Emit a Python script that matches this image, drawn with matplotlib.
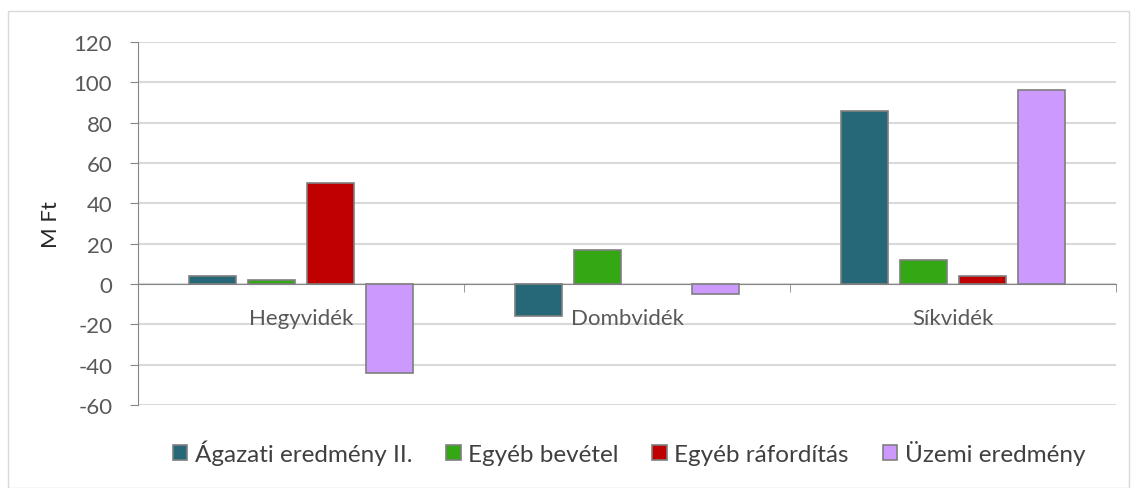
import matplotlib.pyplot as plt
import numpy as np
from matplotlib.patches import Rectangle

categories = ['Hegyvidék', 'Dombvidék', 'Síkvidék']
series_names = ['Ágazati eredmény II.', 'Egyéb bevétel', 'Egyéb ráfordítás', 'Üzemi eredmény']
agazati = [4, -16, 86]
egyeb_bevetel = [2, 17, 12]
egyeb_raforditas = [50, None, 4]   # no bar for Dombvidék
uzemi = [-44, -5, 96]
colors = ['#276878', '#33a814', '#c00000', '#cc99ff']

plt.rcParams['font.family'] = ['Lato', 'DejaVu Sans']
plt.rcParams['axes.unicode_minus'] = False

fig = plt.figure(figsize=(11.32, 4.89), dpi=100)
ax = fig.add_axes([0.1219, 0.1697, 0.8640, 0.7424])

# light frame around the chart area
fig.patches.append(Rectangle((0.007, 0.0), 0.99, 0.975, transform=fig.transFigure,
                             fill=False, edgecolor='#d9d9d9', linewidth=1))

x = np.arange(len(categories))
width = 0.144
step = 0.181
all_series = [agazati, egyeb_bevetel, egyeb_raforditas, uzemi]
for i, (vals, name, c) in enumerate(zip(all_series, series_names, colors)):
    v = np.array([np.nan if a is None else a for a in vals], dtype=float)
    ax.bar(x + (i - 1.5) * step, v, width, color=c, edgecolor='#7f7f7f',
           linewidth=1.2, label=name, zorder=3)

ax.set_xlim(-0.5, 2.5)
ax.set_ylim(-60, 120)
ax.set_yticks(range(-60, 121, 20))
ax.yaxis.grid(True, color='#d9d9d9', linewidth=1.5, zorder=0)
ax.tick_params(axis='y', labelsize=16, length=6, pad=12.5, color='#868686', labelcolor='#595959')

for s in ['top', 'right']:
    ax.spines[s].set_visible(False)
ax.spines['left'].set_color('#868686')
ax.spines['bottom'].set_position(('data', 0))
ax.spines['bottom'].set_color('#868686')

ax.set_xticks(x)
ax.set_xticklabels(categories)
ax.set_xticks([-0.5, 0.5, 1.5, 2.5], minor=True)
ax.tick_params(axis='x', which='major', length=0, labelsize=16, labelcolor='#595959', pad=17)
ax.tick_params(axis='x', which='minor', length=6, color='#868686')
ax.xaxis.set_zorder(5)  # category names over the gridlines

ax.set_ylabel('M Ft', fontsize=16, color='#262626', labelpad=9)

ax.legend(loc='center', bbox_to_anchor=(0.502, -0.13), ncol=4, frameon=False,
          fontsize=17.5, handlelength=0.6, handleheight=0.6, handletextpad=0.3,
          columnspacing=1.4, labelcolor='#404040')

fig.savefig('out.png', dpi=100)
